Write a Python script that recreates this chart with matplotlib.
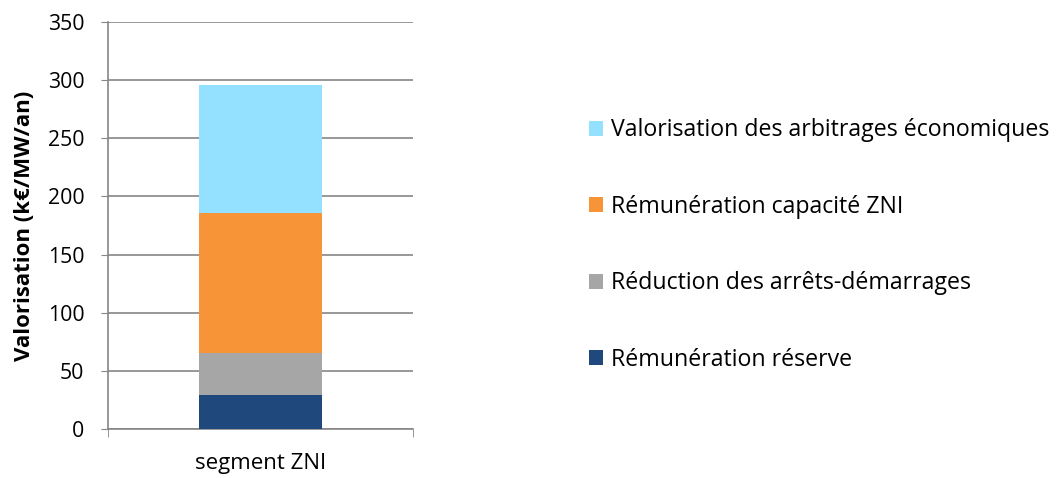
import matplotlib as mpl
mpl.use('Agg')
import matplotlib.pyplot as plt
from matplotlib.patches import Patch

plt.rcParams['font.family'] = ['Open Sans', 'DejaVu Sans']

category = ['segment ZNI']
series = ['Rémunération réserve', 'Réduction des arrêts-démarrages',
          'Rémunération capacité ZNI', 'Valorisation des arbitrages économiques']
values = [29, 36, 121, 110]
colors = ['#1f497d', '#a6a6a6', '#f79438', '#93e0ff']
yticks = [0, 50, 100, 150, 200, 250, 300, 350]

fig = plt.figure(figsize=(10.62, 4.78), dpi=100)
ax = fig.add_axes([108 / 1062, 49 / 478, 305 / 1062, 407 / 478])

bottom = 0
for v, c in zip(values, colors):
    ax.bar(0, v, bottom=bottom, width=0.403, color=c, zorder=3)
    bottom += v

ax.set_xlim(-0.5, 0.5)
ax.set_ylim(0, 350)
ax.set_yticks(yticks)
ax.set_xticks([0])
ax.set_xticklabels(category, fontsize=16)
ax.tick_params(axis='x', length=0, pad=17)
ax.tick_params(axis='y', length=5, color='#868686', labelsize=15.3, pad=12)
ax.set_xticks([-0.5, 0.5], minor=True)
ax.tick_params(axis='x', which='minor', length=6, color='#868686', direction='out')
ax.grid(axis='y', color='#868686', linewidth=1.2, zorder=0)
for s in ['top', 'right']:
    ax.spines[s].set_visible(False)
for s in ['left', 'bottom']:
    ax.spines[s].set_color('#868686')
    ax.spines[s].set_linewidth(1.2)
ax.set_ylabel('Valorisation (k€/MW/an)', fontsize=16, fontweight='bold', labelpad=9)

handles = [Patch(facecolor=c) for c in colors][::-1]
fig.legend(handles, series[::-1], loc='center left',
           bbox_to_anchor=(568 / 1062, 1 - 245 / 478), frameon=False,
           fontsize=16.7, handlelength=0.62, handleheight=0.62,
           handletextpad=0.34, labelspacing=2.26)

fig.savefig('out.png')
